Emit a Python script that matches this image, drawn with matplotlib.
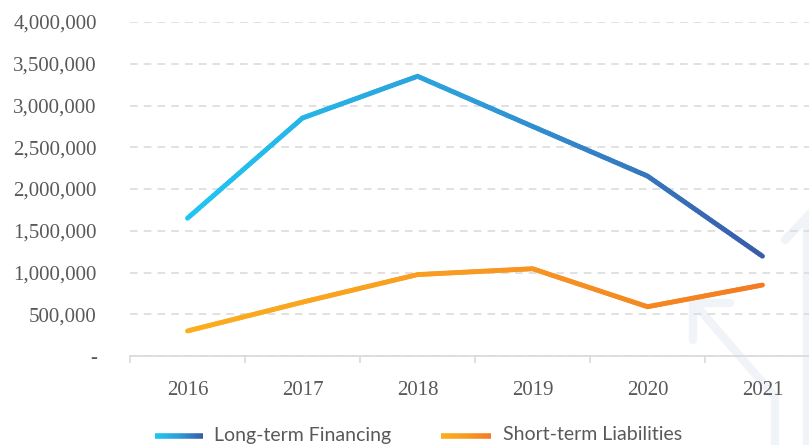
import matplotlib
matplotlib.use("Agg")
import matplotlib.pyplot as plt
import numpy as np
from matplotlib.collections import LineCollection
from matplotlib.colors import LinearSegmentedColormap
from matplotlib.lines import Line2D
from matplotlib.ticker import FuncFormatter

# data
years = ['2016', '2017', '2018', '2019', '2020', '2021']
long_term = [1650000, 2850000, 3350000, 2750000, 2155000, 1195000]
short_term = [300000, 645000, 975000, 1045000, 590000, 850000]
y_ticks = [0, 500000, 1000000, 1500000, 2000000, 2500000, 3000000, 3500000, 4000000]

blue_cmap = LinearSegmentedColormap.from_list('blue', ['#20C6F2', '#2E9CD9', '#3A5DAA'])
orange_cmap = LinearSegmentedColormap.from_list('orange', ['#FBAE1E', '#F89A22', '#F37C22'])

text_grey = '#595959'
grid_grey = '#D9D9D9'
watermark = '#F0F3F8'

fig = plt.figure(figsize=(8.09, 4.45), dpi=100)
fig.patch.set_facecolor('white')

# faint arrow watermark behind the plot
for xs, ys in [([693, 730], [303, 303]), ([693, 693], [303, 340]),
               ([700, 775, 775], [310, 397, 450]),
               ([785, 807, 807], [240, 217, 450])]:
    fig.add_artist(Line2D(np.array(xs) / 809, 1 - np.array(ys) / 445,
                          color=watermark, lw=6, solid_capstyle='round',
                          solid_joinstyle='miter', zorder=0))

ax = fig.add_axes([130 / 809, 89 / 445, 690 / 809, 334 / 445])
ax.patch.set_alpha(0)


def gradient_line(ax, x, y, cmap, lw=3.5):
    # split every segment into short pieces so the colour can run along it
    px, py = [], []
    for i in range(len(x) - 1):
        t = np.linspace(0, 1, 40, endpoint=False)
        px.extend(x[i] + (x[i + 1] - x[i]) * t)
        py.extend(y[i] + (y[i + 1] - y[i]) * t)
    px.append(x[-1])
    py.append(y[-1])
    pts = np.column_stack([px, py]).reshape(-1, 1, 2)
    segs = np.concatenate([pts[:-1], pts[1:]], axis=1)
    c = np.linspace(0, 1, len(segs))
    lc = LineCollection(segs, colors=cmap(c), linewidths=lw, capstyle='round', zorder=3)
    ax.add_collection(lc)


xpos = np.arange(len(years))
gradient_line(ax, xpos, np.array(long_term, dtype=float), blue_cmap)
gradient_line(ax, xpos, np.array(short_term, dtype=float), orange_cmap)

ax.set_xlim(-0.5, 5.5)
ax.set_ylim(0, 4000000)
ax.set_yticks(y_ticks)
ax.yaxis.set_major_formatter(FuncFormatter(lambda v, p: '-' if v == 0 else f'{int(v):,}'))
ax.set_xticks(xpos)
ax.set_xticklabels(years)
ax.set_xticks(np.arange(-0.5, 6, 1), minor=True)

ax.grid(axis='y', color=grid_grey, linestyle=(0, (5, 4)), linewidth=1.1, zorder=1)
ax.set_axisbelow(True)
for s in ['top', 'right', 'left']:
    ax.spines[s].set_visible(False)
ax.spines['bottom'].set_color(grid_grey)
ax.spines['bottom'].set_linewidth(1.2)

ax.tick_params(axis='y', length=0, pad=24, labelsize=15, labelcolor=text_grey)
ax.tick_params(axis='x', which='major', length=0, pad=18, labelsize=15, labelcolor=text_grey)
ax.tick_params(axis='x', which='minor', length=5, width=1.2, color=grid_grey)
for lab in ax.get_xticklabels() + ax.get_yticklabels():
    lab.set_fontfamily('Liberation Serif')

# legend with gradient samples
def legend_sample(x0, x1, y, cmap):
    xs = np.linspace(x0, x1, 30) / 809
    yy = np.full_like(xs, 1 - y / 445)
    pts = np.column_stack([xs, yy]).reshape(-1, 1, 2)
    segs = np.concatenate([pts[:-1], pts[1:]], axis=1)
    lc = LineCollection(segs, colors=cmap(np.linspace(0, 1, len(segs))),
                        linewidths=4, transform=fig.transFigure)
    fig.add_artist(lc)


legend_sample(155, 203, 436, blue_cmap)
legend_sample(441, 491, 436, orange_cmap)
fig.text(214 / 809, 1 - 435 / 445, 'Long-term Financing', fontsize=14, family='Lato',
         color=text_grey, va='center', ha='left')
fig.text(503 / 809, 1 - 435 / 445, 'Short-term Liabilities', fontsize=14, family='Lato',
         color=text_grey, va='center', ha='left')

fig.savefig('out.png', dpi=100)
